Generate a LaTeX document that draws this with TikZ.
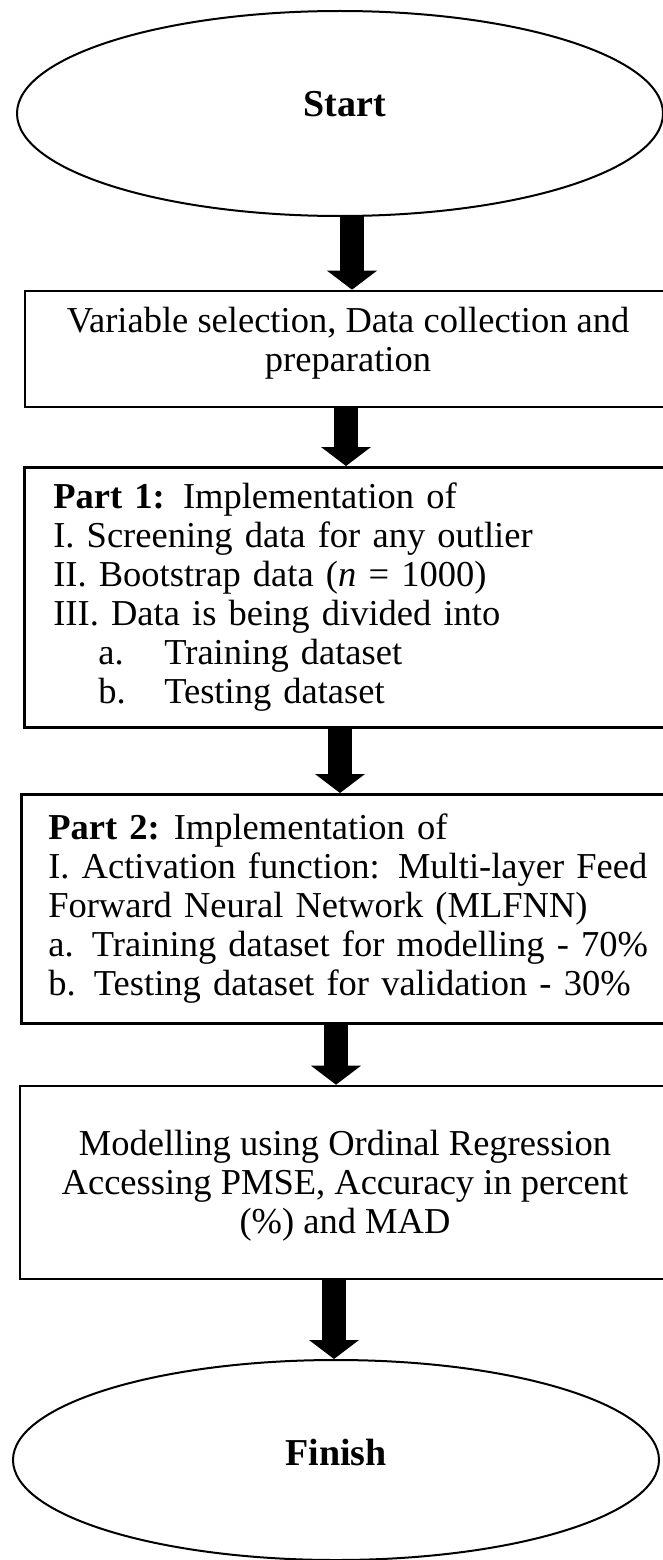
\documentclass[tikz,border=0pt]{standalone}
\usepackage{fontspec}
\setmainfont{Liberation Serif}
\usetikzlibrary{shapes.geometric,arrows.meta,calc}

\begin{document}
\begin{tikzpicture}[x=1pt,y=-1pt,
  every node/.style={font=\fontsize{36.5}{39}\selectfont},
  termtext/.style={font=\fontsize{38}{39}\selectfont\bfseries},
  terminal/.style={ellipse, draw, line width=2pt, minimum width=646pt, inner sep=0pt},
  stepbox/.style={rectangle, draw, line width=2.6pt, inner sep=0pt},
  blockarrow/.style={line width=24pt, -{Triangle[length=19pt,width=49pt]}, shorten <=-1pt}
]
\path[use as bounding box] (0,0) rectangle (663,1560);
\clip (0,0) rectangle (663,1560);

% start / finish terminals
\node[terminal, minimum height=205pt] (start) at (340,113.5) {};
\node[termtext] (starttxt) at (345,104) {Start};

\node[terminal, minimum height=200pt] (finish) at (336,1460) {};
\node[termtext] (finishtxt) at (336,1452) {Finish};

% process boxes
\node[stepbox, minimum width=646pt, minimum height=116pt] (box1) at (348,349) {};
\node[align=center] (box1txt) at (348,343)
  {Variable selection, Data collection and\\preparation};

\node[stepbox, minimum height=260pt, anchor=north west, align=left,
      text width=600pt, inner xsep=29pt] (box2) at (23,466)
  {\textbf{Part 1:} Implementation of\\
   I. Screening data for any outlier\\
   II. Bootstrap data (\textit{n} = 1000)\\
   III. Data is being divided into\\
   \hspace*{45pt}\makebox[66pt][l]{a.}Training dataset\\
   \hspace*{45pt}\makebox[66pt][l]{b.}Testing dataset};

\node[stepbox, minimum height=229pt, anchor=north west, align=left,
      text width=600pt, inner xsep=27pt] (box3) at (20,793)
  {\textbf{Part 2:}\hspace{14pt}Implementation of\\
   I. Activation function: Multi-layer Feed\\
   Forward Neural Network (MLFNN)\\
   a. Training dataset for modelling - 70\%\\
   b. Testing dataset for validation - 30\%};

\node[stepbox, minimum width=650pt, minimum height=193pt] (box4) at (345,1182.5) {};
\node[align=center] (box4txt) at (345,1186)
  {Modelling using Ordinal Regression\\
   Accessing PMSE, Accuracy in percent\\
   (\%) and MAD};

% block arrows between the steps
\draw[blockarrow] (start.south -| 352,0) -- (box1.north -| 352,0);
\draw[blockarrow] (box1.south -| 346,0) -- (box2.north -| 346,0);
\draw[blockarrow] (box2.south -| 340,0) -- (box3.north -| 340,0);
\draw[blockarrow] (box3.south -| 336,0) -- (box4.north -| 336,0);
\draw[blockarrow] (box4.south -| 334,0) -- (finish.north -| 334,0);
\end{tikzpicture}
\end{document}
